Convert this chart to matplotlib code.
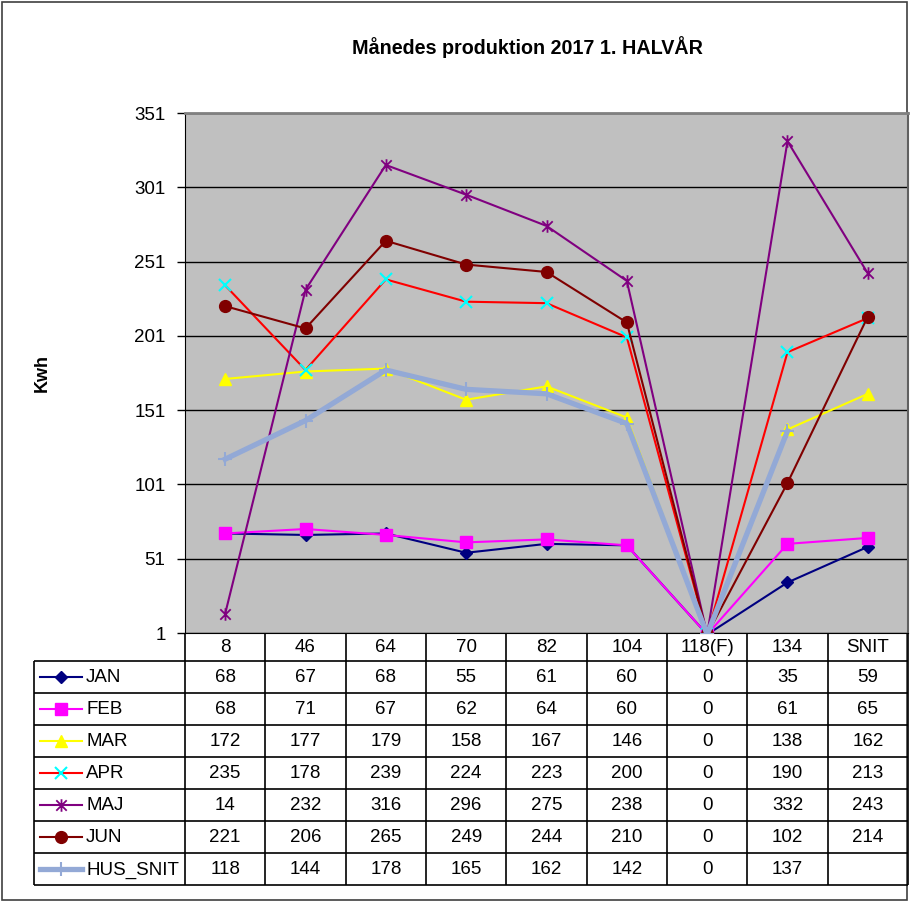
import matplotlib
matplotlib.use('Agg')
import matplotlib.pyplot as plt
import numpy as np
from matplotlib.path import Path
from matplotlib.patches import Rectangle

plt.rcParams['font.family'] = ['Liberation Sans', 'DejaVu Sans']

# ---------------- data ----------------
categories = ['8', '46', '64', '70', '82', '104', '118(F)', '134', 'SNIT']
series_names = ['JAN', 'FEB', 'MAR', 'APR', 'MAJ', 'JUN', 'HUS_SNIT']
jan = [68, 67, 68, 55, 61, 60, 0, 35, 59]
feb = [68, 71, 67, 62, 64, 60, 0, 61, 65]
mar = [172, 177, 179, 158, 167, 146, 0, 138, 162]
apr = [235, 178, 239, 224, 223, 200, 0, 190, 213]
maj = [14, 232, 316, 296, 275, 238, 0, 332, 243]
jun = [221, 206, 265, 249, 244, 210, 0, 102, 214]
hus_snit = [118, 144, 178, 165, 162, 142, 0, 137, None]
y_ticks = [1, 51, 101, 151, 201, 251, 301, 351]
title = 'Månedes produktion 2017 1. HALVÅR'
y_label = 'Kwh'

series_values = [jan, feb, mar, apr, maj, jun, hus_snit]

# ---------------- styles ----------------
star = Path([(-1, -1), (1, 1), (-1, 1), (1, -1), (0, -1.2), (0, 1.2)],
            [Path.MOVETO, Path.LINETO, Path.MOVETO, Path.LINETO, Path.MOVETO, Path.LINETO])
styles = [
    dict(color='#000080', marker='D', ms=5.8, mfc='#000080', mec='#000080', lw=1.5),
    dict(color='#FF00FF', marker='s', ms=8.5, mfc='#FF00FF', mec='#FF00FF', lw=1.5),
    dict(color='#FFFF00', marker='^', ms=9, mfc='#FFFF00', mec='#FFFF00', lw=1.5),
    dict(color='#FF0000', marker='x', ms=8, mec='#00FFFF', mew=1.5, lw=1.5),
    dict(color='#800080', marker=star, ms=9, mec='#800080', mew=1.3, lw=1.5),
    dict(color='#800000', marker='o', ms=8.5, mfc='#800000', mec='#800000', lw=1.5),
    dict(color='#93A9D6', marker='+', ms=10, mec='#93A9D6', mew=1.5, lw=3.8),
]

W, H = 910, 902
fig = plt.figure(figsize=(W / 100, H / 100), dpi=100)

# plot-area geometry in pixels
PL, PR, PT, PB = 185, 908, 113, 633
TL = 34           # legend column left edge
HDR = 661         # bottom of header row
ROWH = 32         # data row height
FS = 13.5

# overlay axes in pixel coordinates (table, border)
ov = fig.add_axes([0, 0, 1, 1])
ov.set_xlim(0, W)
ov.set_ylim(H, 0)
ov.axis('off')
ov.add_patch(Rectangle((1.5, 1.5), 905, 898, fill=False, ec='#404040', lw=1.2))

# main axes
ax = fig.add_axes([PL / W, (H - PB) / H, (PR - PL) / W, (PB - PT) / H])
ax.set_facecolor('#C0C0C0')
x = np.arange(len(categories))
for vals, st in zip(series_values, styles):
    y = np.array([np.nan if v is None else v for v in vals], dtype=float)
    ax.plot(x, y, **st, zorder=3)
ax.set_xlim(-0.5, len(categories) - 0.5)
ax.set_ylim(y_ticks[0], y_ticks[-1])
ax.set_yticks(y_ticks)
ax.set_yticklabels([str(t) for t in y_ticks], fontsize=FS)
ax.set_xticks([])
ax.yaxis.grid(True, color='black', lw=1.0)
ax.set_axisbelow(True)
ax.tick_params(axis='y', direction='out', length=6, width=1, pad=8)
ax.spines['top'].set_color('#808080')
ax.spines['top'].set_linewidth(2)
ax.spines['right'].set_color('#606060')
ax.spines['right'].set_linewidth(1.5)
ax.spines['left'].set_color('black')
ax.spines['bottom'].set_color('black')

fig.text(527 / W, 1 - 47 / H, title, ha='center', va='center', fontsize=14.2, fontweight='bold')
fig.text(42 / W, 1 - (PT + PB) / 2 / H, y_label, ha='center', va='center', rotation=90,
         fontsize=13, fontweight='bold')

# ---------------- data table ----------------
n = len(categories)
cw = (PR - PL) / n
nrows = len(series_names)
bottom = HDR + ROWH * nrows
col_edges = [PL + cw * i for i in range(n + 1)]
ov.vlines(col_edges, PB, bottom, color='black', lw=1.2)
ov.vlines([TL], HDR, bottom, color='black', lw=1.2)
ov.hlines([HDR + ROWH * i for i in range(nrows + 1)], TL, PR, color='black', lw=1.2)

for i, c in enumerate(categories):
    ov.text(PL + cw * (i + 0.5), (PB + HDR) / 2 + 1, c, ha='center', va='center', fontsize=FS)

for r, (name, vals, st) in enumerate(zip(series_names, series_values, styles)):
    yc = HDR + ROWH * r + ROWH / 2
    for i, v in enumerate(vals):
        if v is not None:
            ov.text(PL + cw * (i + 0.5), yc + 1, str(v), ha='center', va='center', fontsize=FS)
    ov.plot([40, 82], [yc, yc], **{k: v for k, v in st.items() if k != 'marker'}, marker='None')
    ov.plot([61], [yc], **st)
    ov.text(86, yc + 1, name, ha='left', va='center', fontsize=FS)

fig.savefig('out.png', dpi=100)
